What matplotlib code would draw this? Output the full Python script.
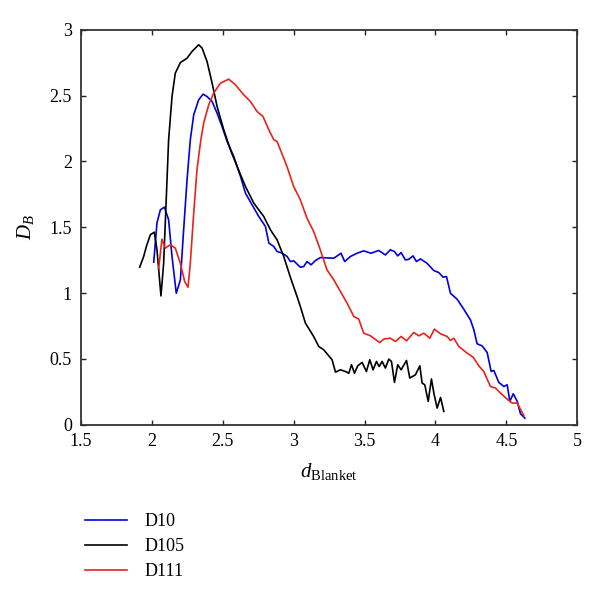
import matplotlib
matplotlib.use("Agg")
import matplotlib.pyplot as plt
from matplotlib.ticker import FuncFormatter

d10_x = [2.013, 2.036, 2.060, 2.088, 2.118, 2.142, 2.172, 2.201, 2.224, 2.248, 2.271, 2.295, 2.330, 2.361,
         2.389, 2.425, 2.460, 2.495, 2.531, 2.578, 2.625, 2.660, 2.707, 2.754, 2.801, 2.825, 2.860, 2.883,
         2.919, 2.954, 2.977, 3.001, 3.047, 3.071, 3.094, 3.123, 3.153, 3.188, 3.230, 3.283, 3.334, 3.360,
         3.400, 3.447, 3.494, 3.546, 3.600, 3.647, 3.682, 3.711, 3.734, 3.758, 3.788, 3.812, 3.842, 3.866,
         3.894, 3.941, 3.988, 4.024, 4.054, 4.078, 4.106, 4.153, 4.200, 4.247, 4.271, 4.294, 4.329, 4.365,
         4.393, 4.412, 4.447, 4.483, 4.506, 4.525, 4.549, 4.577, 4.600, 4.631]
d10_y = [1.235, 1.534, 1.633, 1.653, 1.557, 1.278, 0.999, 1.101, 1.481, 1.860, 2.164, 2.354, 2.468, 2.511,
         2.493, 2.455, 2.366, 2.265, 2.151, 2.037, 1.886, 1.759, 1.670, 1.582, 1.506, 1.380, 1.354, 1.316,
         1.304, 1.278, 1.240, 1.245, 1.197, 1.202, 1.240, 1.215, 1.247, 1.270, 1.268, 1.265, 1.303, 1.240,
         1.278, 1.303, 1.321, 1.303, 1.324, 1.290, 1.329, 1.316, 1.283, 1.308, 1.252, 1.257, 1.283, 1.240,
         1.260, 1.227, 1.172, 1.156, 1.121, 1.126, 0.999, 0.954, 0.878, 0.797, 0.721, 0.615, 0.600, 0.549,
         0.405, 0.413, 0.322, 0.291, 0.304, 0.178, 0.236, 0.178, 0.084, 0.051]

d105_x = [1.914, 1.942, 1.961, 1.989, 2.017, 2.036, 2.064, 2.083, 2.102, 2.118, 2.142, 2.165, 2.201, 2.248,
          2.283, 2.330, 2.354, 2.389, 2.425, 2.460, 2.507, 2.554, 2.601, 2.660, 2.719, 2.789, 2.836, 2.883,
          2.930, 2.977, 3.024, 3.047, 3.083, 3.141, 3.177, 3.212, 3.271, 3.295, 3.330, 3.365, 3.389, 3.408,
          3.429, 3.452, 3.483, 3.513, 3.537, 3.560, 3.584, 3.603, 3.624, 3.647, 3.671, 3.690, 3.711, 3.734,
          3.758, 3.796, 3.819, 3.859, 3.890, 3.906, 3.925, 3.949, 3.972, 3.989, 4.012, 4.036, 4.059]
d105_y = [1.197, 1.278, 1.354, 1.443, 1.463, 1.329, 0.979, 1.227, 1.734, 2.164, 2.493, 2.670, 2.751, 2.784,
          2.835, 2.886, 2.861, 2.759, 2.594, 2.417, 2.240, 2.088, 1.962, 1.810, 1.683, 1.582, 1.481, 1.405,
          1.278, 1.120, 0.974, 0.899, 0.772, 0.671, 0.595, 0.570, 0.494, 0.400, 0.418, 0.405, 0.392, 0.456,
          0.392, 0.448, 0.474, 0.405, 0.494, 0.418, 0.481, 0.443, 0.481, 0.431, 0.499, 0.481, 0.322, 0.456,
          0.418, 0.489, 0.355, 0.380, 0.448, 0.317, 0.304, 0.178, 0.348, 0.241, 0.127, 0.208, 0.102]

d111_x = [2.048, 2.071, 2.095, 2.130, 2.165, 2.201, 2.231, 2.255, 2.271, 2.295, 2.318, 2.342, 2.365, 2.401,
          2.436, 2.483, 2.542, 2.589, 2.648, 2.695, 2.742, 2.784, 2.825, 2.860, 2.883, 2.930, 2.953, 3.000,
          3.047, 3.094, 3.141, 3.188, 3.235, 3.283, 3.330, 3.377, 3.424, 3.459, 3.494, 3.541, 3.607, 3.636,
          3.682, 3.718, 3.758, 3.796, 3.847, 3.883, 3.918, 3.960, 3.993, 4.036, 4.083, 4.106, 4.130, 4.165,
          4.224, 4.266, 4.306, 4.341, 4.388, 4.424, 4.459, 4.506, 4.542, 4.577, 4.624]
d111_y = [1.189, 1.410, 1.342, 1.367, 1.342, 1.227, 1.088, 1.045, 1.227, 1.607, 1.936, 2.139, 2.291, 2.430,
          2.519, 2.594, 2.625, 2.582, 2.506, 2.455, 2.379, 2.341, 2.240, 2.164, 2.151, 2.025, 1.961, 1.810,
          1.709, 1.569, 1.468, 1.329, 1.177, 1.101, 1.012, 0.924, 0.823, 0.803, 0.696, 0.676, 0.625, 0.651,
          0.658, 0.633, 0.671, 0.638, 0.701, 0.676, 0.696, 0.658, 0.727, 0.691, 0.671, 0.640, 0.658, 0.595,
          0.544, 0.514, 0.448, 0.405, 0.291, 0.279, 0.241, 0.195, 0.165, 0.165, 0.069]

series_names = ["D10", "D105", "D111"]
x_ticks = [1.5, 2, 2.5, 3, 3.5, 4, 4.5, 5]
y_ticks = [0, 0.5, 1, 1.5, 2, 2.5, 3]

plt.rcParams['font.family'] = ['Liberation Serif', 'DejaVu Serif']
plt.rcParams['mathtext.fontset'] = 'custom'
plt.rcParams['mathtext.rm'] = 'Liberation Serif'
plt.rcParams['mathtext.it'] = 'Liberation Serif:italic'

fig = plt.figure(figsize=(6.0, 5.95), dpi=100)
ax = fig.add_axes([0.135, 0.286, 0.827, 0.664])

lw = 1.2
l1, = ax.plot(d10_x, d10_y, color='#0000e0', lw=lw)
l2, = ax.plot(d105_x, d105_y, color='black', lw=lw)
l3, = ax.plot(d111_x, d111_y, color='#e8231a', lw=lw)

ax.set_xlim(1.5, 5)
ax.set_ylim(0, 3)
ax.set_xticks(x_ticks)
ax.set_yticks(y_ticks)
fmt = FuncFormatter(lambda v, p: f"{v:g}")
ax.xaxis.set_major_formatter(fmt)
ax.yaxis.set_major_formatter(fmt)
ax.tick_params(direction='in', top=True, right=True, length=3.5, width=1.0,
               labelsize=13, colors='#222222', labelcolor='black')
ax.tick_params(axis='x', pad=6)
ax.tick_params(axis='y', pad=6.5)
for s in ax.spines.values():
    s.set_linewidth(1.3)
    s.set_color('#333333')

ax.set_xlabel(r'$d_{\mathrm{Blanket}}$', fontsize=15, labelpad=8)
ax.set_ylabel(r'$D_B$', fontsize=15, labelpad=10)

fig.legend([l1, l2, l3], series_names, loc='upper left', bbox_to_anchor=(0.115, 0.165),
           frameon=False, fontsize=13, handlelength=2.3, handletextpad=1.0, labelspacing=0.45)

fig.savefig('out.png', dpi=100)
